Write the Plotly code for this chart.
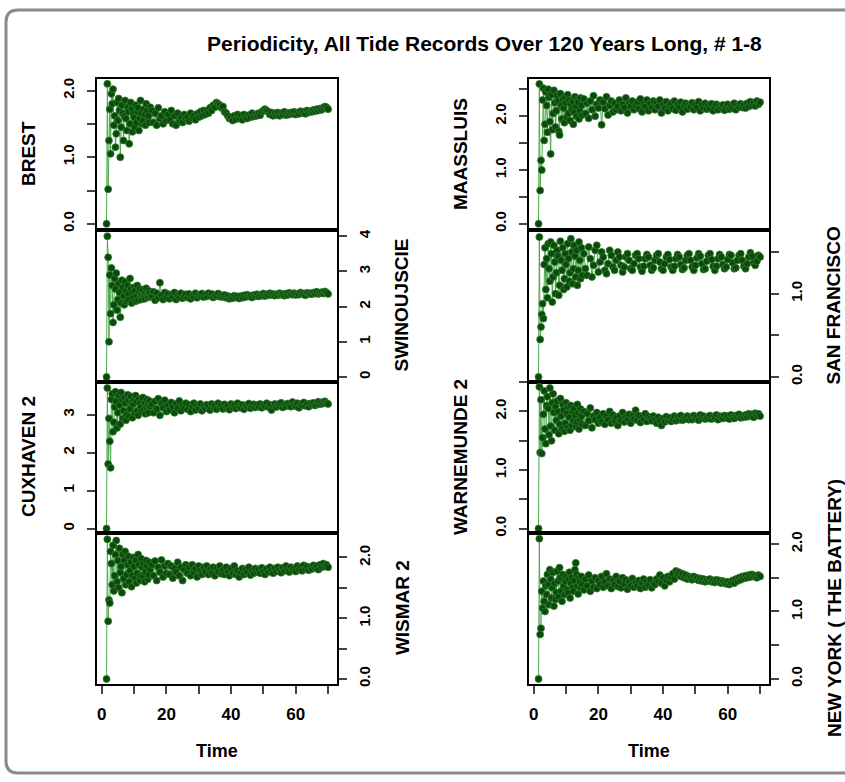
import numpy as np
import plotly.graph_objects as go

W, H = 845, 782

# ---------------- data (periodicity values) ----------------
# time grid: 1.5 .. 15 every 0.25, then 15.5 .. 70 every 0.5
N_EARLY = 55

brest = [
    0.00, 2.10, 0.52, 1.25, 1.72, 1.05, 1.95, 1.80, 2.02, 1.48, 1.62,
    1.15, 1.35, 1.82, 1.55, 1.88, 1.70, 1.00, 1.45, 1.78, 1.66, 1.25,
    1.62, 1.85, 1.58, 1.40, 1.75, 1.68, 1.20, 1.50, 1.82, 1.72, 1.38,
    1.65, 1.60, 1.45, 1.78, 1.52, 1.68, 1.74, 1.40, 1.58, 1.85, 1.66,
    1.50, 1.55, 1.72, 1.64, 1.48, 1.80, 1.70, 1.56, 1.62, 1.52, 1.75,
    1.70, 1.52, 1.66, 1.48, 1.74, 1.58, 1.62, 1.50, 1.68, 1.55, 1.64,
    1.56, 1.70, 1.50, 1.62, 1.48, 1.66, 1.55, 1.60, 1.52, 1.64, 1.58,
    1.60, 1.54, 1.66, 1.58, 1.62, 1.56, 1.65, 1.60, 1.68, 1.62, 1.70,
    1.64, 1.70, 1.66, 1.74, 1.70, 1.78, 1.75, 1.82, 1.80, 1.78, 1.74,
    1.76, 1.68, 1.66, 1.62, 1.58, 1.60, 1.55, 1.62, 1.57, 1.64, 1.58,
    1.62, 1.56, 1.64, 1.60, 1.58, 1.63, 1.60, 1.66, 1.61, 1.64, 1.62,
    1.66, 1.63, 1.68, 1.70, 1.72, 1.70, 1.68, 1.64, 1.67, 1.62, 1.66,
    1.63, 1.67, 1.62, 1.66, 1.64, 1.68, 1.63, 1.66, 1.64, 1.67, 1.65,
    1.68, 1.64, 1.67, 1.65, 1.69, 1.66, 1.68, 1.65, 1.70, 1.67, 1.69,
    1.68, 1.71, 1.69, 1.72, 1.70, 1.73, 1.71, 1.74, 1.76, 1.75, 1.72,
]

swinoujscie = [
    0.00, 4.00, 3.40, 1.00, 2.90, 1.80, 3.10, 2.60, 1.55, 2.05, 2.80,
    2.50, 2.95, 1.90, 2.20, 2.65, 2.40, 1.70, 2.10, 2.75, 2.55, 2.30,
    2.05, 2.70, 2.45, 2.15, 2.60, 2.35, 2.20, 2.80, 2.50, 2.10, 2.40,
    2.25, 2.55, 2.45, 2.15, 2.30, 2.60, 2.18, 2.42, 2.50, 2.28, 2.20,
    2.35, 2.48, 2.30, 2.22, 2.40, 2.52, 2.32, 2.26, 2.45, 2.38, 2.28,
    2.30, 2.42, 2.18, 2.38, 2.25, 2.68, 2.32, 2.20, 2.40, 2.26, 2.36,
    2.22, 2.34, 2.28, 2.40, 2.20, 2.32, 2.26, 2.38, 2.24, 2.30, 2.35,
    2.26, 2.36, 2.22, 2.30, 2.28, 2.38, 2.25, 2.33, 2.30, 2.37, 2.27,
    2.34, 2.29, 2.38, 2.31, 2.36, 2.26, 2.33, 2.30, 2.37, 2.28, 2.32,
    2.27, 2.33, 2.25, 2.30, 2.22, 2.28, 2.24, 2.31, 2.26, 2.29, 2.23,
    2.30, 2.25, 2.32, 2.27, 2.34, 2.29, 2.31, 2.26, 2.33, 2.30, 2.35,
    2.29, 2.34, 2.31, 2.37, 2.30, 2.35, 2.32, 2.38, 2.33, 2.36, 2.31,
    2.35, 2.32, 2.38, 2.34, 2.36, 2.31, 2.37, 2.33, 2.39, 2.35, 2.34,
    2.38, 2.33, 2.36, 2.34, 2.40, 2.35, 2.37, 2.32, 2.39, 2.36, 2.38,
    2.35, 2.40, 2.37, 2.42, 2.36, 2.39, 2.41, 2.37, 2.43, 2.40, 2.36,
]

cuxhaven2 = [
    0.00, 3.70, 1.70, 2.90, 2.30, 1.60, 3.40, 3.55, 2.55, 2.80, 3.20,
    3.60, 3.35, 2.65, 3.05, 3.50, 3.25, 2.75, 3.58, 3.40, 2.90, 3.10,
    3.45, 3.30, 2.85, 3.00, 3.52, 3.38, 2.95, 3.15, 3.48, 3.32, 2.92,
    3.28, 3.40, 3.05, 3.50, 3.35, 3.10, 2.98, 3.42, 3.30, 3.18, 3.08,
    3.38, 3.45, 3.12, 3.30, 3.02, 3.20, 3.40, 3.25, 3.05, 3.36, 3.22,
    3.28, 3.05, 3.35, 3.15, 3.42, 2.98, 3.30, 3.18, 3.38, 3.08, 3.25,
    3.12, 3.32, 3.20, 3.05, 3.28, 3.16, 3.36, 3.10, 3.24, 3.18, 3.30,
    3.14, 3.26, 3.08, 3.22, 3.30, 3.12, 3.24, 3.18, 3.28, 3.10, 3.22,
    3.16, 3.26, 3.20, 3.12, 3.28, 3.18, 3.24, 3.14, 3.30, 3.20, 3.25,
    3.15, 3.27, 3.19, 3.23, 3.13, 3.28, 3.20, 3.25, 3.16, 3.30, 3.21,
    3.18, 3.26, 3.14, 3.24, 3.20, 3.29, 3.17, 3.23, 3.27, 3.19, 3.25,
    3.21, 3.28, 3.18, 3.25, 3.22, 3.30, 3.20, 3.26, 3.12, 3.24, 3.28,
    3.20, 3.27, 3.23, 3.31, 3.19, 3.26, 3.22, 3.29, 3.24, 3.21, 3.33,
    3.25, 3.22, 3.30, 3.18, 3.27, 3.24, 3.32, 3.23, 3.28, 3.21, 3.29,
    3.26, 3.31, 3.24, 3.28, 3.34, 3.27, 3.32, 3.29, 3.35, 3.30, 3.28,
]

wismar2 = [
    0.00, 2.30, 0.95, 1.30, 1.25, 2.10, 1.90, 1.55, 2.20, 1.45, 1.70,
    2.05, 2.28, 1.60, 1.95, 1.50, 2.15, 1.75, 1.85, 1.42, 2.05, 1.65,
    1.95, 2.10, 1.55, 1.72, 1.88, 2.02, 1.60, 1.78, 1.92, 1.52, 1.70,
    2.00, 1.85, 1.66, 1.95, 1.58, 1.74, 2.05, 1.88, 1.62, 1.70, 1.98,
    1.84, 1.68, 1.90, 1.60, 1.76, 1.95, 1.86, 1.64, 1.72, 1.92, 1.80,
    1.88, 1.70, 1.94, 1.62, 1.84, 1.76, 1.96, 1.68, 1.86, 1.74, 1.90,
    1.72, 1.86, 1.66, 1.82, 1.76, 1.92, 1.70, 1.84, 1.62, 1.80, 1.88,
    1.74, 1.84, 1.70, 1.88, 1.76, 1.82, 1.68, 1.86, 1.78, 1.72, 1.84,
    1.76, 1.86, 1.72, 1.80, 1.74, 1.84, 1.70, 1.82, 1.76, 1.86, 1.73,
    1.80, 1.72, 1.84, 1.76, 1.70, 1.82, 1.74, 1.86, 1.72, 1.78, 1.68,
    1.76, 1.82, 1.72, 1.80, 1.75, 1.84, 1.71, 1.78, 1.74, 1.82, 1.76,
    1.80, 1.74, 1.83, 1.77, 1.72, 1.81, 1.76, 1.84, 1.78, 1.74, 1.82,
    1.77, 1.84, 1.79, 1.75, 1.83, 1.78, 1.86, 1.80, 1.76, 1.84, 1.79,
    1.82, 1.77, 1.86, 1.80, 1.84, 1.78, 1.87, 1.81, 1.85, 1.79, 1.84,
    1.81, 1.87, 1.83, 1.86, 1.80, 1.88, 1.84, 1.90, 1.85, 1.88, 1.84,
]

maassluis = [
    0.00, 2.60, 0.62, 1.18, 1.00, 2.30, 2.52, 1.55, 1.85, 2.45, 2.20,
    1.70, 2.50, 2.35, 1.90, 1.30, 2.40, 1.75, 2.05, 2.48, 2.25, 1.80,
    2.10, 2.38, 2.28, 1.72, 1.65, 2.42, 2.20, 1.95, 2.32, 2.15, 1.88,
    2.35, 2.25, 1.98, 2.40, 2.05, 2.30, 1.92, 2.22, 2.12, 2.28, 1.85,
    2.08, 2.36, 2.18, 2.00, 2.30, 2.26, 1.95, 2.10, 2.34, 2.20, 2.02,
    2.32, 2.05, 2.24, 1.96, 2.28, 2.12, 2.38, 2.00, 2.22, 2.15, 2.30,
    1.84, 2.26, 2.14, 2.36, 2.02, 2.20, 2.28, 2.08, 2.24, 2.12, 2.18,
    2.30, 2.10, 2.22, 2.16, 2.34, 2.06, 2.24, 2.18, 2.28, 2.12, 2.20,
    2.26, 2.14, 2.32, 2.08, 2.22, 2.18, 2.30, 2.10, 2.24, 2.16, 2.28,
    2.12, 2.25, 2.18, 2.30, 2.06, 2.22, 2.15, 2.27, 2.10, 2.20, 2.24,
    2.14, 2.28, 2.11, 2.22, 2.17, 2.26, 2.08, 2.20, 2.24, 2.13, 2.21,
    2.18, 2.25, 2.12, 2.22, 2.16, 2.27, 2.10, 2.21, 2.15, 2.24, 2.13,
    2.20, 2.14, 2.23, 2.10, 2.18, 2.22, 2.12, 2.19, 2.16, 2.21, 2.11,
    2.17, 2.22, 2.13, 2.19, 2.15, 2.24, 2.12, 2.20, 2.17, 2.23, 2.16,
    2.21, 2.15, 2.24, 2.18, 2.27, 2.20, 2.25, 2.19, 2.28, 2.22, 2.26,
]

san_francisco = [
    0.00, 1.68, 0.45, 0.60, 0.75, 0.88, 0.70, 1.35, 1.55, 1.05, 1.42,
    0.95, 1.60, 1.30, 1.15, 1.62, 1.48, 0.90, 1.20, 1.58, 1.38, 1.00,
    1.25, 1.52, 1.45, 0.98, 1.10, 1.63, 1.40, 1.28, 1.55, 1.05, 1.18,
    1.48, 1.35, 1.08, 1.60, 1.42, 1.15, 1.25, 1.66, 1.50, 1.12, 1.30,
    1.58, 1.45, 1.20, 1.52, 1.10, 1.28, 1.62, 1.40, 1.18, 1.55, 1.22,
    1.48, 1.30, 1.22, 1.56, 1.42, 1.20, 1.34, 1.52, 1.58, 1.26, 1.38,
    1.50, 1.44, 1.28, 1.24, 1.36, 1.52, 1.46, 1.32, 1.28, 1.40, 1.50,
    1.44, 1.34, 1.26, 1.32, 1.44, 1.48, 1.40, 1.30, 1.28, 1.36, 1.46,
    1.48, 1.42, 1.32, 1.27, 1.33, 1.42, 1.47, 1.44, 1.34, 1.28, 1.31,
    1.40, 1.46, 1.48, 1.38, 1.30, 1.28, 1.36, 1.44, 1.47, 1.41, 1.32,
    1.28, 1.33, 1.42, 1.47, 1.44, 1.35, 1.29, 1.31, 1.40, 1.46, 1.48,
    1.40, 1.32, 1.28, 1.34, 1.43, 1.48, 1.45, 1.36, 1.29, 1.30, 1.39,
    1.46, 1.48, 1.41, 1.33, 1.28, 1.33, 1.42, 1.47, 1.44, 1.35, 1.30,
    1.32, 1.41, 1.47, 1.46, 1.37, 1.30, 1.31, 1.40, 1.46, 1.48, 1.40,
    1.33, 1.30, 1.36, 1.44, 1.49, 1.45, 1.37, 1.34, 1.39, 1.46, 1.44,
]

warnemunde2 = [
    0.00, 2.42, 1.30, 2.20, 1.28, 1.55, 1.95, 2.35, 1.70, 1.45, 2.10,
    2.25, 2.05, 1.60, 2.40, 1.75, 1.50, 2.15, 2.30, 1.98, 1.68, 2.08,
    1.85, 2.18, 2.00, 1.62, 1.78, 2.22, 1.92, 1.70, 2.12, 2.02, 1.66,
    1.80, 2.15, 1.96, 1.72, 2.08, 1.90, 1.68, 2.10, 1.76, 2.00, 1.84,
    2.06, 1.94, 1.74, 1.82, 2.12, 1.98, 1.70, 1.86, 2.04, 1.92, 1.78,
    2.00, 1.76, 1.96, 1.84, 2.06, 1.72, 1.92, 1.86, 1.98, 1.80, 1.90,
    1.82, 1.96, 1.78, 1.92, 1.86, 2.00, 1.80, 1.94, 1.84, 1.90, 1.76,
    1.92, 1.84, 1.98, 1.82, 1.90, 1.86, 1.95, 1.80, 1.92, 1.87, 2.02,
    1.85, 1.93, 1.81, 1.90, 1.86, 1.96, 1.83, 1.91, 1.88, 1.84, 1.92,
    1.86, 1.80, 1.90, 1.84, 1.76, 1.88, 1.82, 1.91, 1.85, 1.89, 1.83,
    1.87, 1.92, 1.84, 1.90, 1.86, 1.93, 1.85, 1.89, 1.87, 1.92, 1.86,
    1.90, 1.86, 1.93, 1.88, 1.91, 1.85, 1.94, 1.89, 1.92, 1.87, 1.90,
    1.88, 1.93, 1.87, 1.91, 1.89, 1.94, 1.86, 1.92, 1.90, 1.88, 1.93,
    1.89, 1.92, 1.87, 1.94, 1.90, 1.88, 1.93, 1.91, 1.95, 1.89, 1.92,
    1.90, 1.94, 1.91, 1.96, 1.92, 1.95, 1.90, 1.97, 1.93, 1.96, 1.92,
]

new_york = [
    0.00, 2.08, 0.66, 0.75, 1.30, 1.05, 1.45, 1.15, 1.00, 1.38, 1.25,
    1.55, 1.40, 1.10, 1.62, 1.48, 1.20, 1.35, 1.58, 1.08, 1.42, 1.18,
    1.28, 1.60, 1.45, 1.22, 1.65, 1.50, 1.30, 1.15, 1.55, 1.38, 1.25,
    1.45, 1.52, 1.32, 1.28, 1.48, 1.58, 1.20, 1.42, 1.50, 1.35, 1.30,
    1.46, 1.62, 1.72, 1.55, 1.38, 1.26, 1.50, 1.44, 1.35, 1.52, 1.40,
    1.32, 1.48, 1.38, 1.54, 1.30, 1.45, 1.36, 1.50, 1.34, 1.46, 1.40,
    1.52, 1.36, 1.44, 1.56, 1.38, 1.48, 1.34, 1.46, 1.40, 1.52, 1.37,
    1.45, 1.35, 1.50, 1.40, 1.47, 1.33, 1.44, 1.38, 1.49, 1.36, 1.43,
    1.38, 1.46, 1.34, 1.42, 1.48, 1.36, 1.44, 1.39, 1.47, 1.35, 1.42,
    1.40, 1.48, 1.44, 1.54, 1.42, 1.50, 1.38, 1.46, 1.52, 1.44, 1.50,
    1.56, 1.48, 1.60, 1.55, 1.58, 1.52, 1.56, 1.50, 1.54, 1.48, 1.52,
    1.50, 1.47, 1.52, 1.48, 1.50, 1.46, 1.49, 1.45, 1.48, 1.44, 1.47,
    1.45, 1.48, 1.44, 1.46, 1.43, 1.47, 1.44, 1.46, 1.42, 1.45, 1.43,
    1.41, 1.44, 1.40, 1.43, 1.46, 1.42, 1.48, 1.45, 1.50, 1.47, 1.52,
    1.49, 1.53, 1.50, 1.54, 1.51, 1.55, 1.52, 1.53, 1.50, 1.54, 1.52,
]

station_names = ["BREST", "SWINOUJSCIE", "CUXHAVEN 2", "WISMAR 2",
                 "MAASSLUIS", "SAN FRANCISCO", "WARNEMUNDE 2", "NEW YORK ( THE BATTERY)"]
station_values = [brest, swinoujscie, cuxhaven2, wismar2,
                  maassluis, san_francisco, warnemunde2, new_york]

y_ranges = [[-0.085, 2.18], [-0.13, 4.19], [-0.105, 3.87], [-0.077, 2.41],
            [-0.105, 2.70], [-0.056, 1.77], [-0.068, 2.51], [-0.07, 2.17]]
y_tickvals = [[0, 0.5, 1, 1.5, 2], [0, 1, 2, 3, 4], [0, 1, 2, 3], [0, 0.5, 1, 1.5, 2],
              [0, 0.5, 1, 1.5, 2, 2.5], [0, 0.5, 1, 1.5], [0, 0.5, 1, 1.5, 2, 2.5],
              [0, 0.5, 1, 1.5, 2]]
y_ticktext = [["0.0", "", "1.0", "", "2.0"], ["0", "1", "2", "3", "4"], ["0", "1", "2", "3"],
              ["0.0", "", "1.0", "", "2.0"], ["0.0", "", "1.0", "", "2.0", ""],
              ["0.0", "", "1.0", ""], ["0.0", "", "1.0", "", "2.0", ""],
              ["0.0", "", "1.0", "", "2.0"]]
x_tickvals = [0, 10, 20, 30, 40, 50, 60, 70]
x_ticktext = ["0", "", "20", "", "40", "", "60", ""]

title_text = "Periodicity, All Tide Records Over 120 Years Long, # 1-8"
x_title = "Time"


def time_grid(n):
    early = 1.5 + 0.25 * np.arange(min(n, N_EARLY))
    late = 15.5 + 0.5 * np.arange(max(0, n - N_EARLY))
    return np.concatenate([early, late])


# ---------------- layout geometry (pixels) ----------------
def px(x):
    return x / W


def py(y):
    return 1 - y / H


col_px = [(97, 337), (529, 769)]
row_px = [(78, 230), (230, 383), (383, 535), (535, 687)]

FONT = "Liberation Sans, Arial, Helvetica, sans-serif"
PT_COLOR = "#0b4a0b"
LN_COLOR = "#4ea84e"

fig = go.Figure()
layout = dict(width=W, height=H, margin=dict(l=0, r=0, t=0, b=0),
              paper_bgcolor="white", plot_bgcolor="white", showlegend=False,
              font=dict(family=FONT, color="black"))
annotations = []

for i, (name, vals) in enumerate(zip(station_names, station_values)):
    col, row = divmod(i, 4)
    k = i + 1
    xa, ya = f"x{k}", f"y{k}"
    t = time_grid(len(vals))
    fig.add_trace(go.Scatter(
        x=t, y=vals, mode="lines+markers", xaxis=xa, yaxis=ya,
        line=dict(color=LN_COLOR, width=1),
        marker=dict(color=PT_COLOR, size=7, line=dict(color="#2e7d2e", width=0.8)),
        hoverinfo="skip"))
    x0, x1 = col_px[col]
    y0, y1 = row_px[row]
    bottom = row == 3
    side = "left" if row % 2 == 0 else "right"
    layout[f"xaxis{k}"] = dict(
        domain=[px(x0), px(x1)], anchor=ya, range=[-1.45, 72.75],
        showline=True, mirror=True, linecolor="black", linewidth=2,
        showgrid=False, zeroline=False,
        ticks="outside" if bottom else "", ticklen=8, tickwidth=1.5,
        tickvals=x_tickvals, ticktext=x_ticktext, ticklabelstandoff=6,
        showticklabels=bottom, tickfont=dict(size=17, family=FONT, weight="bold"),
        fixedrange=True)
    layout[f"yaxis{k}"] = dict(
        domain=[py(y1), py(y0)], anchor=xa, side=side, range=y_ranges[i],
        showline=True, mirror=True, linecolor="black", linewidth=2,
        showgrid=False, zeroline=False,
        ticks="outside", ticklen=8, tickwidth=1.5,
        tickvals=y_tickvals[i], ticktext=y_ticktext[i], tickangle=-90,
        ticklabelstandoff=7 if side == "left" else 5,
        tickfont=dict(size=15, family=FONT, weight="bold"), fixedrange=True)
    # axis title
    lx = x0 - 69 if side == "left" else x1 + 65
    annotations.append(dict(
        text=f"<b>{name}</b>", x=px(lx), y=py((y0 + y1) / 2), xref="paper", yref="paper",
        textangle=-90, showarrow=False, xanchor="center", yanchor="middle",
        font=dict(size=19, family=FONT)))
    if bottom:
        annotations.append(dict(
            text=x_title, x=px((x0 + x1) / 2), y=py(755), xref="paper", yref="paper",
            showarrow=False, xanchor="center", yanchor="middle",
            font=dict(size=18, family=FONT, weight="bold")))

annotations.append(dict(
    text=f"<b>{title_text}</b>", x=px(484), y=py(43), xref="paper", yref="paper",
    showarrow=False, xanchor="center", yanchor="middle", font=dict(size=21, family=FONT)))

# rounded frame around the picture
fx0, fy0, fx1, fy1, r = 6, 9, 860, 777, 12
path = (f"M {px(fx1)},{py(fy0)} L {px(fx0 + r)},{py(fy0)} "
        f"Q {px(fx0)},{py(fy0)} {px(fx0)},{py(fy0 + r)} "
        f"L {px(fx0)},{py(fy1 - r)} Q {px(fx0)},{py(fy1)} {px(fx0 + r)},{py(fy1)} "
        f"L {px(fx1)},{py(fy1)}")
layout["shapes"] = [dict(type="path", path=path, xref="paper", yref="paper",
                         line=dict(color="#8a8a8a", width=3), layer="below")]
layout["annotations"] = annotations
fig.update_layout(**layout)
fig.write_html("out.html")
